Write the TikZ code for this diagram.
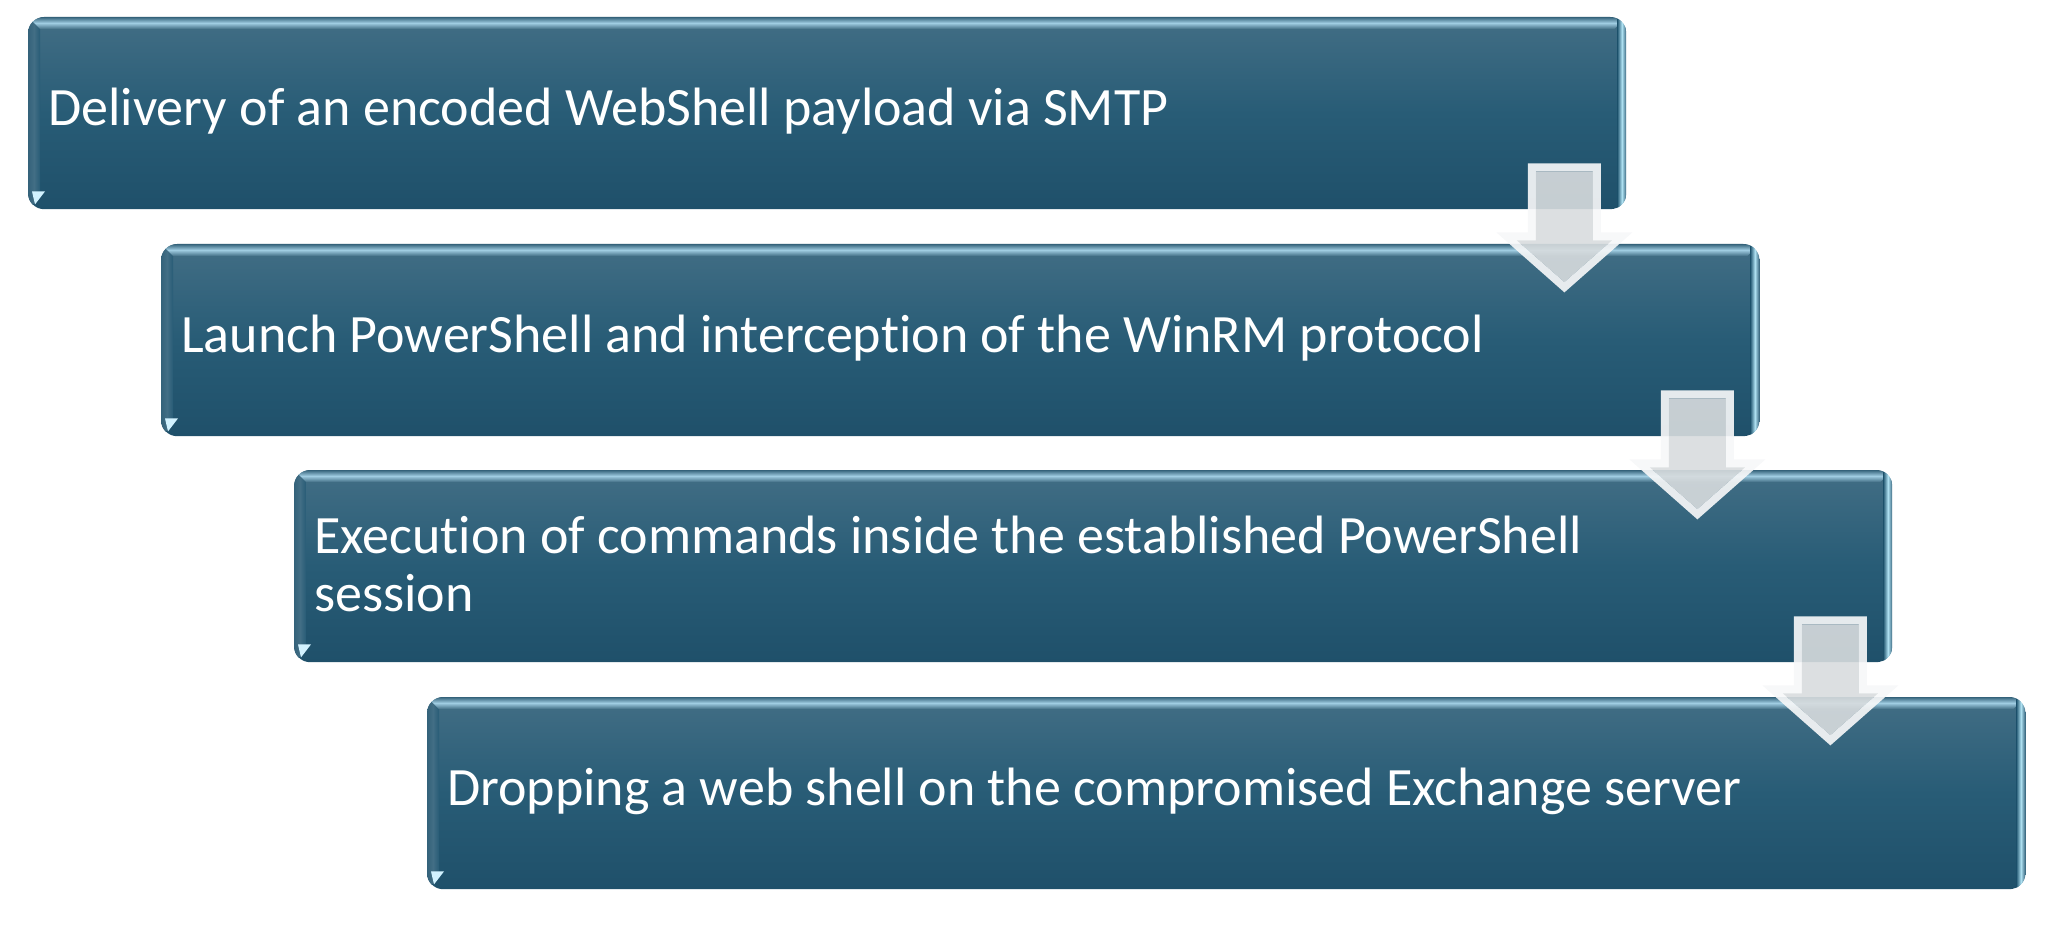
\documentclass[tikz,border=0pt]{standalone}
\usepackage{fontspec}
\setmainfont[RawFeature={-liga}]{Carlito}
\usetikzlibrary{calc}
\definecolor{btop}{RGB}{66,110,133}
\definecolor{bmid}{RGB}{40,92,118}
\definecolor{bbot}{RGB}{31,80,106}
\definecolor{bedge}{RGB}{52,98,122}
\definecolor{hlblue}{RGB}{160,205,226}
\definecolor{hlright}{RGB}{175,225,242}
\definecolor{glint}{RGB}{210,242,255}
\definecolor{arrface}{RGB}{216,220,222}
\definecolor{arredge}{RGB}{246,247,248}
\tikzset{
  stepbox/.style={anchor=north west, minimum width=1598pt, minimum height=192pt,
    rounded corners=16pt, top color=btop, bottom color=bbot, middle color=bmid,
    inner sep=0pt, draw=none},
  steptext/.style={anchor=west, text=white, align=left, inner sep=0pt,
    font=\fontsize{54}{58.3}\selectfont},
  arrowring/.style={fill=arredge, fill opacity=0.92, even odd rule},
  arrowbody/.style={fill=arrface, fill opacity=0.9}
}
\newcommand{\boxbevel}[1]{%
  \begin{scope}
    \clip[rounded corners=16pt] (#1.north west) rectangle (#1.south east);
    % left band
    \shade[left color=bedge, right color=bmid, middle color=btop]
      (#1.north west) -- ($(#1.north west)+(12,12)$) -- ($(#1.south west)+(12,-12)$) -- (#1.south west) -- cycle;
    % top band
    \shade[top color=bedge, bottom color=btop, middle color=hlblue]
      (#1.north west) -- (#1.north east) -- ($(#1.north east)+(-12,12)$) -- ($(#1.north west)+(12,12)$) -- cycle;
    % right band
    \shade[left color=bmid, right color=bedge, middle color=hlright]
      ($(#1.north east)+(-9,0)$) rectangle (#1.south east);
    % glint bottom left
    \fill[glint] ($(#1.south west)+(4,-18)$) -- ($(#1.south west)+(17,-18)$) -- ($(#1.south west)+(7,-5)$) -- cycle;
  \end{scope}}
\newcommand{\flowarrow}[1]{%
  \begin{scope}[shift={(#1)}]
    \fill[arrowring] (-36.5,0) -- (36.5,0) -- (36.5,69) -- (68,69) -- (0,129) -- (-68,69) -- (-36.5,69) -- cycle
      (-28.5,8) -- (28.5,8) -- (28.5,77) -- (47.5,77) -- (0,118.7) -- (-47.5,77) -- (-28.5,77) -- cycle;
    \fill[arrowbody] (-28.5,8) -- (28.5,8) -- (28.5,77) -- (47.5,77) -- (0,118.7) -- (-47.5,77) -- (-28.5,77) -- cycle;
  \end{scope}}
\begin{document}
\begin{tikzpicture}[x=1pt,y=-1pt]
\useasboundingbox (0,0) rectangle (2048,936);
\node[stepbox] (b1) at (28,17) {};
\node[stepbox] (b2) at (161,244) {};
\node[stepbox] (b3) at (294,470) {};
\node[stepbox] (b4) at (427,697) {};
\foreach \b in {b1,b2,b3,b4}{\boxbevel{\b}}
\node[steptext] (t1) at ($(b1.west)+(20,-2)$) {Delivery of an encoded WebShell payload via SMTP};
\node[steptext] (t2) at ($(b2.west)+(20,-2)$) {Launch PowerShell and interception of the WinRM protocol};
\node[steptext] (t3) at ($(b3.west)+(20,-2)$) {Execution of commands inside the established PowerShell\\session};
\node[steptext] (t4) at ($(b4.west)+(20,-2)$) {Dropping a web shell on the compromised Exchange server};
\coordinate (a1) at ($(b1.south east)+(-62,-46)$);
\coordinate (a2) at ($(b2.south east)+(-62,-46)$);
\coordinate (a3) at ($(b3.south east)+(-62,-46)$);
\flowarrow{a1}
\flowarrow{a2}
\flowarrow{a3}
\end{tikzpicture}
\end{document}
